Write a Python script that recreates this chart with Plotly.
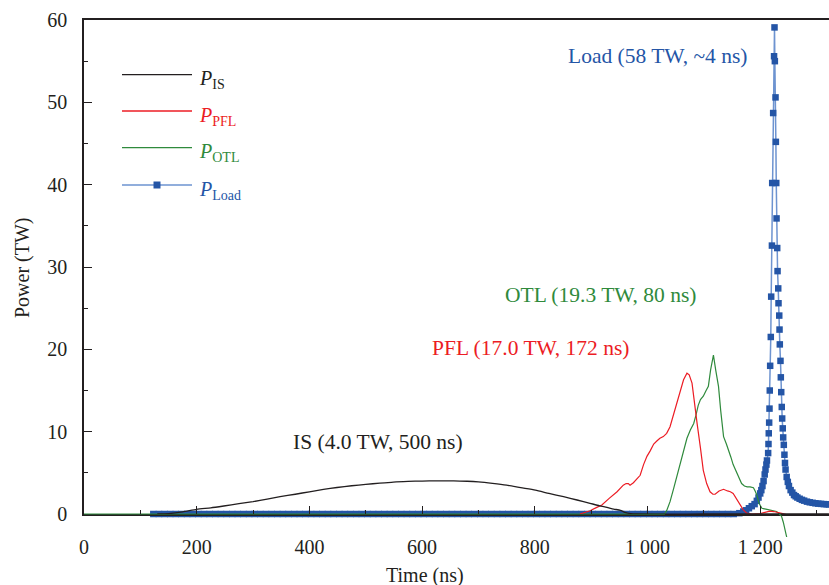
import plotly.graph_objects as go

# ---------------- data ----------------
is_t = [130, 150, 175, 200, 225, 248, 275, 300, 325, 348, 375, 400, 425, 449, 475, 500,
        525, 549, 575, 600, 625, 656, 680, 700, 725, 750, 775, 801, 825, 851, 875, 898,
        915, 928, 940, 952, 960, 970, 980, 1100, 1200, 1322]
is_p = [0.0, 0.05, 0.25, 0.57, 0.75, 0.97, 1.25, 1.5, 1.8, 2.1, 2.4, 2.7, 2.98, 3.22, 3.43, 3.6,
        3.75, 3.88, 3.96, 4.0, 4.02, 4.03, 3.98, 3.9, 3.72, 3.5, 3.2, 2.9, 2.5, 2.1, 1.7, 1.3,
        1.0, 0.8, 0.6, 0.45, 0.2, 0.05, 0.0, 0.0, 0.0, 0.0]

pfl_t = [880, 898, 910, 919, 932, 946, 957, 962, 966, 969, 975, 980, 987, 993, 999, 1005,
         1011, 1017, 1022, 1028, 1034, 1040, 1046, 1052, 1058, 1064, 1070, 1074, 1079, 1084,
         1088, 1094, 1099, 1105, 1111, 1116, 1120, 1127, 1135, 1142, 1147, 1152, 1158, 1164,
         1170, 1176, 1185, 1200, 1210, 1217, 1224, 1232, 1240, 1248]
pfl_p = [0.0, 0.4, 0.8, 1.1, 1.9, 2.7, 3.5, 3.7, 3.7, 3.5, 3.8, 4.2, 4.7, 6.0, 7.0, 7.7,
         8.5, 8.9, 9.2, 9.4, 9.8, 10.6, 12.0, 13.5, 15.1, 16.3, 17.1, 16.9, 15.9, 13.5,
         11.0, 8.0, 5.3, 3.7, 2.7, 2.4, 2.4, 2.8, 3.0, 2.8, 2.7, 2.5, 1.8, 1.1,
         0.5, 0.1, 0.0, 0.05, 0.2, 0.35, 0.3, 0.2, 0.05, -0.1]

otl_t = [0, 1030, 1034, 1040, 1046, 1052, 1058, 1064, 1070, 1076, 1082, 1086, 1090, 1094,
         1099, 1104, 1108, 1112, 1117, 1121, 1126, 1130, 1135, 1140, 1144, 1148, 1152, 1158,
         1163, 1167, 1172, 1177, 1182, 1188, 1191, 1194, 1198, 1203, 1210, 1217, 1223, 1229,
         1234, 1238, 1241, 1244, 1247]
otl_p = [0.0, 0.0, 0.4, 1.5, 3.0, 4.5, 6.2, 7.8, 9.2, 10.2, 11.0, 12.0, 13.2, 13.9,
         14.3, 15.0, 15.5, 17.5, 19.3, 17.5, 15.5, 12.5, 9.4, 8.5, 7.8, 6.9, 6.0, 5.0,
         4.2, 3.7, 3.4, 3.3, 3.3, 3.2, 2.8, 2.3, 1.3, 0.7, 0.6, 0.5, 0.45, 0.3,
         0.0, -0.3, -1.0, -2.0, -2.8]

# load: flat part sampled every 10 ns, then the pulse
load_flat_t = list(range(123, 1163, 10))
load_flat_p = [0.0 for _ in load_flat_t]
load_pulse_t = [1163, 1170, 1175, 1180, 1185, 1190, 1194, 1197, 1200, 1202, 1204, 1206,
                1208, 1209.4, 1211, 1212, 1214.1, 1214.7, 1215.2, 1215.9, 1216.5, 1217.0,
                1217.7, 1218.8, 1219.5, 1220.8, 1221.3, 1223.0, 1224.6, 1225.4, 1226.0,
                1227.2, 1227.8, 1228.5, 1229.0, 1230.2, 1230.8, 1232.0, 1232.5, 1233.8,
                1234.3, 1234.8, 1236.0, 1236.6, 1237.3, 1238.3, 1239.0, 1240.0, 1240.8,
                1241.9, 1243, 1244, 1245, 1247, 1249, 1251, 1254, 1257, 1260, 1263, 1266,
                1270, 1274, 1278, 1283, 1288, 1293, 1298, 1303, 1308, 1313, 1318, 1322]
load_pulse_p = [0.1, 0.3, 0.45, 0.7, 0.95, 1.2, 1.6, 2.0, 2.5, 2.9, 3.4, 4.0,
                4.8, 5.4, 6.0, 6.5, 7.4, 8.5, 9.8, 11.1, 12.8, 15.0,
                18.0, 21.5, 26.4, 32.6, 40.2, 48.7, 55.6, 59.1, 55.0,
                50.6, 45.2, 40.2, 35.9, 32.3, 29.5, 27.4, 25.6, 24.1,
                22.4, 20.6, 18.6, 16.6, 14.8, 13.0, 11.6, 10.4, 9.3,
                8.4, 7.2, 6.2, 5.4, 4.5, 3.9, 3.4, 2.9, 2.6, 2.3, 2.15, 2.0,
                1.85, 1.72, 1.62, 1.5, 1.42, 1.36, 1.3, 1.26, 1.23, 1.2, 1.18, 1.16]
load_t = load_flat_t + load_pulse_t
load_p = load_flat_p + load_pulse_p

x_tickvals = [0, 200, 400, 600, 800, 1000, 1200]
x_ticktext = ["0", "200", "400", "600", "800", "1 000", "1 200"]
y_tickvals = [0, 10, 20, 30, 40, 50, 60]

# ---------------- styling ----------------
FONT = "Liberation Serif"
INK = "#231f20"
RED = "#ec1c24"
GREEN = "#2f8a3c"
BLUE_M = "#2455a6"
BLUE_L = "#6d93d0"

W, H = 829, 585
ML, MR, MT, MB = 84, 0, 20, 48
plot_h = H - MT - MB          # 517
low_px = 23                   # band below the zero line
d = low_px / plot_h
unit_px = (plot_h - low_px) / 60.0

def px_x(px):
    return (px - ML) / (W - ML - MR)

def px_y(py):
    return (H - MB - py) / plot_h

fig = go.Figure()

fig.add_trace(go.Scatter(x=load_t, y=load_p, mode="lines+markers", name="P_Load",
                         line=dict(color=BLUE_L, width=1.5),
                         marker=dict(symbol="square", size=6.5, color=BLUE_M, line=dict(width=0)),
                         cliponaxis=False, showlegend=False))
fig.add_trace(go.Scatter(x=otl_t, y=otl_p, mode="lines", name="P_OTL",
                         line=dict(color=GREEN, width=1.2), showlegend=False))
fig.add_trace(go.Scatter(x=pfl_t, y=pfl_p, mode="lines", name="P_PFL",
                         line=dict(color=RED, width=1.2), showlegend=False))
fig.add_trace(go.Scatter(x=is_t, y=is_p, mode="lines", name="P_IS",
                         line=dict(color=INK, width=1.3, shape="spline", smoothing=0.6),
                         showlegend=False))
# negative tail of OTL below the zero line (same data, lower strip)
fig.add_trace(go.Scatter(x=otl_t, y=otl_p, mode="lines", xaxis="x2", yaxis="y2",
                         line=dict(color=GREEN, width=1.2), showlegend=False, hoverinfo="skip"))

tickfont = dict(family=FONT, size=20, color=INK)
fig.update_layout(
    width=W, height=H, autosize=False,
    margin=dict(l=ML, r=MR, t=MT, b=MB, pad=0),
    paper_bgcolor="white", plot_bgcolor="white",
    font=dict(family=FONT, size=20, color=INK),
    showlegend=False,
    xaxis=dict(range=[0, (W - ML - MR) / 0.5635], anchor="y", domain=[0, 1],
               showline=True, linecolor=INK, linewidth=1.5, mirror=True,
               showgrid=False, zeroline=False,
               ticks="inside", ticklen=8, tickwidth=1.2, tickcolor=INK,
               tickvals=x_tickvals, ticktext=x_ticktext, tickfont=tickfont,
               ticklabelstandoff=14,
               minor=dict(ticks="inside", ticklen=4, tickwidth=1, tickcolor=INK,
                          tickvals=[100, 300, 500, 700, 900, 1100, 1300])),
    yaxis=dict(range=[0, 60], domain=[d, 1], anchor="x",
               showline=True, linecolor=INK, linewidth=1.5,
               showgrid=False, zeroline=False,
               ticks="inside", ticklen=8, tickwidth=1.2, tickcolor=INK,
               tickvals=y_tickvals, tickfont=tickfont, ticklabelstandoff=11,
               minor=dict(ticks="inside", ticklen=4, tickwidth=1, tickcolor=INK,
                          tickvals=[5, 15, 25, 35, 45, 55])),
    xaxis2=dict(matches="x", anchor="y2", visible=False),
    yaxis2=dict(range=[-low_px / unit_px, 0], domain=[0, d], anchor="x2", visible=False),
)

ann = []
def label(text, xd, yd, color):
    ann.append(dict(text=text, x=xd, y=yd, xref="x", yref="y", showarrow=False,
                    xanchor="center", yanchor="middle",
                    font=dict(family=FONT, size=21.5, color=color)))

label("Load (58 TW, ~4 ns)", 1017, 55.6, BLUE_M)
label("OTL (19.3 TW, 80 ns)", 918, 26.6, GREEN)
label("PFL (17.0 TW, 172 ns)", 794, 20.2, RED)
label("IS (4.0 TW, 500 ns)", 522, 8.8, INK)

# axis titles
ann.append(dict(text="Time (ns)", x=px_x(425), y=px_y(575), xref="paper", yref="paper",
                showarrow=False, xanchor="center", yanchor="middle",
                font=dict(family=FONT, size=20, color=INK)))
ann.append(dict(text="Power (TW)", x=px_x(22), y=px_y(268), xref="paper", yref="paper",
                showarrow=False, xanchor="center", yanchor="middle", textangle=-90,
                font=dict(family=FONT, size=20, color=INK)))

# hand-made legend
legend_rows = [("IS", INK, INK, 74.7), ("PFL", RED, RED, 111.0),
               ("OTL", GREEN, GREEN, 147.7), ("Load", BLUE_L, BLUE_M, 185.0)]
shapes = []
for sub, lc, tc, ry in legend_rows:
    shapes.append(dict(type="line", xref="paper", yref="paper",
                       x0=px_x(122), x1=px_x(192), y0=px_y(ry), y1=px_y(ry),
                       line=dict(color=lc, width=1.5 if sub == "Load" else 1.3)))
    ann.append(dict(text=f"<i>P</i><sub>{sub}</sub>", x=px_x(197), y=px_y(ry + 5),
                    xref="paper", yref="paper", showarrow=False,
                    xanchor="left", yanchor="middle",
                    font=dict(family=FONT, size=20, color=tc)))
shapes.append(dict(type="rect", xref="paper", yref="paper",
                   xsizemode="pixel", ysizemode="pixel",
                   xanchor=px_x(157), yanchor=px_y(185.0),
                   x0=-3.5, x1=3.5, y0=-3.5, y1=3.5,
                   fillcolor=BLUE_M, line=dict(width=0)))

fig.update_layout(annotations=ann, shapes=shapes)
fig.write_html("out.html", config={"displayModeBar": False},
               post_script="document.body.style.margin='0';document.body.style.padding='0';")
